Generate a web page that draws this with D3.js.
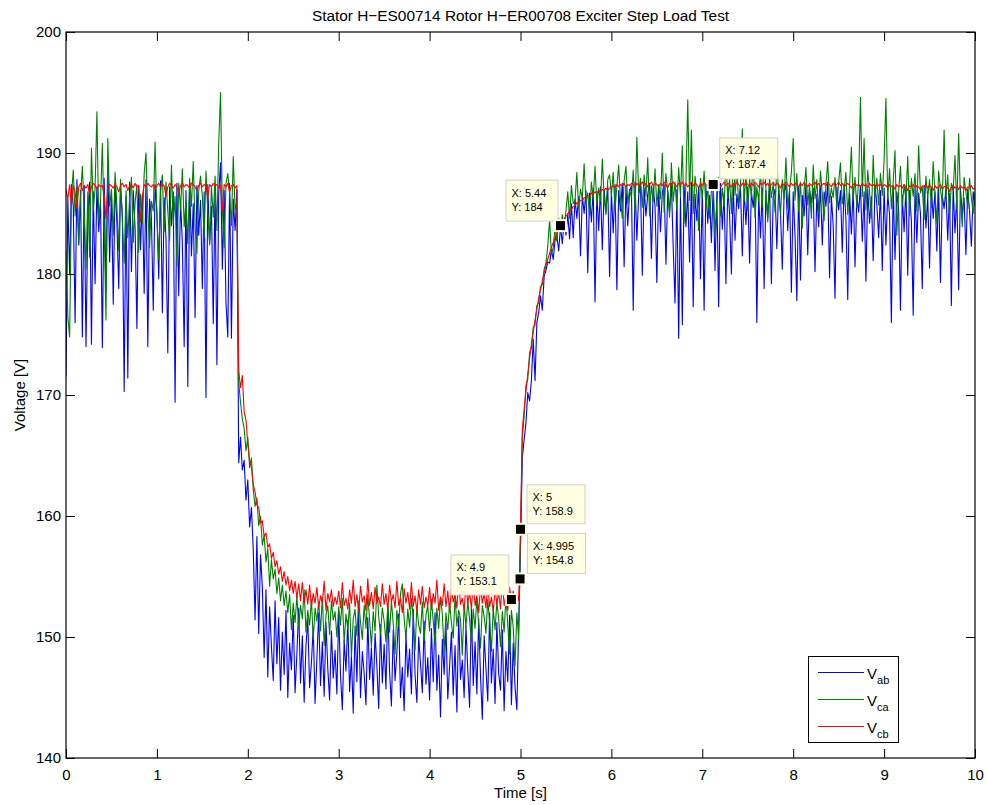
<!DOCTYPE html>
<html>
<head>
<meta charset="utf-8">
<script src="https://cdn.jsdelivr.net/npm/d3@7"></script>
<style>
    body { margin: 0; background: #fff; }
    svg { display: block; font-family: "Liberation Sans", Arial, Helvetica, sans-serif; }
</style>
</head>
<body>
<svg id="chart" width="987" height="805"></svg>
<script>
// Sampled at 0.02 s, 0..10 s (501 samples per phase)
const sampleStep = 0.02;

const vab = [
    171.5,186.2,180.0,187.4,185.6,176.0,187.8,182.4,186.9,174.8,187.3,174.0,184.5,187.6,174.2,186.8,179.2,187.2,183.5,186.0,173.9,187.9,178.6,189.2,181.0,
    186.7,177.5,187.5,184.2,178.8,187.1,185.0,170.3,186.4,171.4,187.6,180.2,186.9,183.8,175.5,187.3,182.0,186.5,178.4,187.8,174.0,186.2,184.6,177.0,187.4,
    185.2,179.6,187.7,176.8,186.3,182.9,173.5,187.2,184.0,186.8,169.4,187.5,178.2,186.0,182.6,174.0,186.9,170.7,187.6,181.5,185.8,176.4,187.3,183.2,186.1,
    178.8,186.8,169.8,187.4,182.5,185.6,175.9,187.2,172.5,186.6,189.2,180.4,186.9,177.6,174.8,187.5,174.7,186.2,183.6,187.0,164.4,166.5,163.8,164.6,161.3,
    163.0,159.1,160.7,157.2,151.4,158.3,150.3,156.8,154.1,148.3,153.9,146.7,152.5,149.2,146.4,153.0,147.8,151.6,145.6,150.4,146.9,152.2,145.0,149.5,147.3,
    151.8,145.4,148.6,152.4,146.2,150.1,144.6,149.3,151.5,145.8,147.9,150.8,144.5,148.2,152.0,146.0,149.6,145.1,151.2,147.4,144.8,150.5,146.6,148.9,145.3,
    152.1,146.8,144.0,149.7,147.2,151.4,145.5,148.4,143.7,150.9,146.3,152.2,145.0,148.8,147.0,144.4,151.6,146.5,149.1,145.2,150.3,147.6,144.1,151.0,146.2,
    149.4,145.7,152.5,147.1,144.3,150.6,146.4,148.7,151.9,145.0,147.5,143.9,150.2,146.7,149.0,145.3,152.3,146.9,144.6,150.0,147.8,145.4,151.3,146.1,148.3,
    144.8,150.7,146.3,152.0,145.6,148.5,143.4,149.8,146.9,151.1,144.9,147.6,150.4,145.2,149.3,143.8,151.7,146.5,148.1,145.0,150.9,147.3,144.2,152.4,146.0,
    149.6,145.3,151.5,146.8,143.2,150.1,147.4,144.7,152.0,146.2,149.0,144.5,151.2,147.0,145.6,150.6,143.9,148.8,146.3,151.8,144.4,149.5,145.8,144.0,150.9,
    157.5,164.8,166.3,167.7,170.2,169.5,171.2,174.6,171.2,176.0,176.8,178.2,177.0,179.8,180.3,181.0,180.9,182.0,181.2,182.8,183.2,181.9,183.9,182.5,184.4,
    183.2,185.0,182.9,185.8,183.0,186.2,184.6,186.4,181.5,186.5,185.0,186.9,180.1,186.7,184.3,187.1,177.7,186.8,183.6,187.2,182.0,187.0,185.1,187.3,179.8,
    186.8,183.4,187.4,178.7,186.9,185.2,187.5,180.6,187.2,184.0,186.8,187.3,177.0,187.6,182.8,186.5,187.4,179.9,187.1,184.8,186.6,187.5,181.3,187.2,185.6,
    179.3,187.1,183.5,186.7,187.4,180.8,186.9,185.1,187.5,182.2,177.6,187.0,174.7,186.4,175.8,187.3,183.9,186.8,181.0,187.5,177.3,186.6,184.4,187.2,179.6,
    186.9,177.0,187.4,184.2,186.5,182.6,187.3,180.3,186.8,177.3,187.5,183.7,186.7,179.2,187.2,185.0,180.0,187.4,182.8,186.6,185.4,187.3,181.5,186.9,184.1,
    187.2,180.9,186.8,185.5,187.4,176.0,186.6,183.0,187.1,178.8,186.9,184.6,187.5,179.2,186.4,187.0,182.1,187.3,185.2,180.4,186.7,187.4,183.6,186.9,178.5,
    186.8,183.2,177.8,187.2,179.5,186.5,184.8,187.4,181.6,186.9,185.9,187.1,180.2,186.6,183.9,187.3,182.4,186.8,185.6,187.5,179.7,186.4,184.0,178.0,187.2,
    185.3,186.9,181.8,187.4,184.5,177.9,186.7,183.3,187.2,180.6,186.5,185.1,187.3,182.7,186.8,179.4,187.0,184.2,186.4,181.1,187.3,185.8,183.0,186.9,180.3,
    187.1,182.4,186.6,184.9,176.0,187.3,181.2,186.8,185.3,177.0,186.5,183.5,187.2,179.9,186.9,184.4,176.6,187.0,182.6,186.7,185.0,178.8,187.3,183.8,186.4,
    180.5,187.1,184.6,186.8,181.9,187.2,179.3,186.5,185.4,187.0,182.8,186.7,177.4,187.3,183.4,186.6,178.7,187.1,184.9,186.3,181.6,187.0,185.2,182.3,186.8,
    185.6
];

const vca = [
    182.0,176.5,174.8,186.5,188.6,184.8,187.2,182.5,186.3,188.9,185.1,180.4,186.8,181.4,190.4,185.2,187.1,193.4,184.3,186.1,190.8,183.8,176.2,191.2,185.6,
    187.0,183.2,188.4,185.6,181.9,187.8,184.5,180.9,186.9,183.0,186.2,188.0,182.6,185.9,187.4,181.8,186.6,184.2,188.3,190.0,185.0,182.2,186.0,185.2,190.9,
    184.6,181.2,186.8,188.2,183.5,187.6,185.2,182.8,189.0,184.1,186.4,180.6,187.5,185.3,188.7,183.9,186.1,182.5,187.9,185.6,189.3,184.0,181.7,186.9,188.1,
    186.4,183.0,188.5,185.1,182.4,187.2,184.7,188.1,183.6,190.8,195.0,185.4,182.2,187.5,188.3,186.6,184.0,189.7,185.3,186.0,171.0,169.4,168.0,167.2,165.4,
    166.5,164.0,164.8,162.2,160.8,161.5,159.2,160.0,157.6,158.4,156.2,157.3,154.2,156.4,154.8,155.6,153.6,154.9,153.0,154.3,152.6,153.8,152.0,153.5,150.6,
    152.8,151.2,153.4,150.8,152.6,151.5,153.9,150.4,152.2,151.0,153.1,149.8,152.4,151.3,152.9,150.5,153.3,149.3,151.8,152.6,150.2,153.0,151.4,152.1,150.0,
    152.5,151.0,153.2,149.5,151.9,150.6,152.8,148.4,151.5,152.3,150.1,153.0,151.2,149.8,152.6,150.7,153.5,151.4,149.2,152.1,150.5,154.3,151.7,150.2,152.4,
    151.3,149.6,152.7,150.4,153.0,151.1,148.6,152.2,150.9,153.6,154.4,151.5,149.9,152.3,150.8,153.2,151.6,148.9,152.5,151.0,150.3,152.9,149.7,151.8,152.6,
    150.5,153.1,151.3,149.4,152.4,150.7,153.3,151.9,148.7,152.0,150.6,152.8,151.2,149.9,153.4,150.9,152.2,151.5,148.5,152.7,150.8,153.0,151.4,149.6,152.3,
    150.7,153.2,151.0,149.1,152.6,151.7,150.3,153.1,151.2,148.8,152.4,150.6,152.9,151.5,149.2,152.1,150.4,153.4,151.0,148.6,152.2,150.8,147.6,152.0,149.8,
    158.0,166.5,168.2,170.8,171.3,173.5,173.9,175.6,175.8,177.4,177.6,179.0,179.1,180.4,180.9,182.3,184.5,181.6,182.2,183.9,182.7,184.6,183.4,184.9,183.8,
    185.2,186.8,184.6,187.3,185.8,186.1,188.4,185.4,187.0,186.3,189.1,185.9,186.7,184.8,187.6,186.2,188.9,185.7,187.1,186.0,189.5,186.4,184.9,187.8,188.2,
    186.5,188.4,185.3,187.2,189.0,186.1,184.6,187.7,188.9,185.8,187.0,186.3,188.6,184.9,191.3,186.7,187.9,185.5,188.2,186.4,189.6,184.8,187.3,186.0,188.7,
    185.6,187.4,186.2,190.0,185.1,188.3,186.8,184.7,189.2,186.0,187.6,185.3,188.8,186.4,190.6,184.2,187.5,194.4,186.1,191.9,185.0,188.1,186.6,183.6,187.9,
    186.3,188.5,185.4,187.2,184.6,186.8,187.4,183.3,185.9,188.0,184.8,187.1,185.6,189.4,186.2,187.8,185.0,190.3,186.5,188.7,185.8,187.3,192.0,186.0,188.2,
    185.3,187.9,186.4,189.5,184.7,187.2,186.0,188.6,185.5,190.2,186.9,184.3,188.0,186.3,187.5,185.1,189.1,186.7,184.9,187.8,186.2,189.6,185.4,187.0,188.4,
    191.2,186.1,188.3,185.2,187.6,183.8,186.9,188.8,185.7,187.3,184.6,189.0,186.2,187.8,185.0,188.5,186.6,184.4,187.4,189.3,185.9,187.1,186.3,188.0,185.4,
    187.6,189.2,185.8,186.9,188.4,184.9,187.3,190.5,186.1,188.0,185.5,187.7,194.6,186.4,191.2,185.3,188.6,186.8,184.6,189.8,186.3,187.9,185.7,188.3,186.5,
    189.4,194.5,186.2,188.7,185.4,187.6,190.2,183.2,186.8,188.9,185.6,187.4,186.1,189.7,184.8,187.9,186.4,188.3,185.2,190.6,186.7,187.2,184.5,188.1,186.3,
    187.8,185.5,189.3,186.6,184.2,188.5,187.0,185.9,191.9,186.4,188.2,184.7,187.5,186.9,189.8,185.3,191.6,186.2,183.9,188.0,186.8,185.4,187.9,186.3,185.0,
    186.8
];

const vcb = [
    187.0,186.2,187.4,185.6,187.3,186.8,185.4,187.2,187.5,186.9,187.3,187.1,187.4,186.6,187.2,187.5,187.3,187.0,187.4,187.2,187.3,186.5,184.6,187.1,187.4,
    187.3,187.1,187.4,187.2,186.8,187.3,187.5,187.2,187.4,186.9,187.3,187.4,187.1,187.5,187.2,187.3,184.3,186.4,187.4,187.2,187.5,187.3,187.2,187.4,187.0,
    187.3,187.5,187.2,187.4,187.3,186.4,187.2,187.5,187.3,187.1,187.4,187.2,186.7,187.3,187.5,187.2,187.4,187.3,187.1,187.5,187.4,187.2,186.9,187.3,187.5,
    187.2,187.4,187.3,186.3,187.4,187.2,187.5,187.3,187.4,187.1,187.3,185.2,187.4,187.2,187.5,186.8,187.3,187.4,187.1,187.3,172.0,170.6,171.6,168.6,167.9,
    166.0,164.6,164.0,162.6,162.0,160.9,160.7,159.4,159.6,158.3,158.6,157.4,157.7,156.5,157.0,155.8,156.3,155.2,155.8,154.6,155.4,154.3,155.0,153.8,154.7,
    153.6,154.6,153.2,154.4,153.0,154.5,152.8,153.9,152.7,154.3,152.5,153.6,152.8,154.1,152.4,153.4,152.8,154.6,152.2,153.6,152.9,153.9,152.5,153.3,152.7,
    153.8,152.4,154.5,152.6,153.2,152.3,153.9,152.8,154.7,152.5,153.5,152.1,154.2,152.9,153.4,152.2,154.8,152.6,153.7,152.3,154.1,152.8,153.3,152.5,154.4,
    152.7,153.6,152.2,154.3,152.9,153.5,152.4,154.6,152.6,153.2,152.0,154.0,152.8,153.7,152.3,154.5,152.5,153.4,152.1,153.9,152.7,154.2,152.4,153.3,152.6,
    154.1,152.3,153.6,152.8,154.7,152.2,153.3,152.6,154.4,152.5,153.8,152.1,154.0,152.9,153.5,152.4,154.6,152.7,153.2,152.2,154.3,152.8,153.7,152.3,154.5,
    152.6,153.4,152.0,154.2,152.8,153.6,152.4,154.4,152.5,153.3,152.1,154.0,152.7,153.8,152.3,154.6,152.6,153.5,152.2,154.1,153.1,153.8,152.6,153.6,153.0,
    158.9,167.2,168.8,170.3,171.7,173.0,174.2,175.2,176.2,177.1,178.0,178.7,179.4,180.1,180.7,181.2,181.7,182.2,182.6,183.0,183.4,183.7,184.0,184.3,184.5,
    184.8,184.9,185.3,185.3,185.6,185.6,185.9,185.8,186.1,186.1,186.3,186.3,186.5,186.4,186.7,186.6,186.8,186.7,186.9,186.8,187.0,186.9,187.1,186.9,187.1,
    187.2,187.3,187.1,187.4,187.2,187.4,187.3,187.5,187.2,187.4,187.3,187.5,187.4,187.2,187.5,187.3,187.4,187.6,187.3,187.5,187.2,187.4,187.6,187.3,187.5,
    187.4,187.2,187.5,187.3,187.6,187.4,187.1,187.5,187.3,187.6,187.4,187.2,187.5,187.4,187.6,187.3,187.5,187.2,187.4,187.6,187.3,187.5,187.4,187.1,187.5,
    187.3,187.6,187.4,187.2,187.5,187.3,187.4,187.6,187.3,187.5,187.2,187.4,187.6,187.3,187.5,187.4,187.2,187.5,187.3,187.6,187.4,187.2,187.5,187.3,187.6,
    187.4,187.2,187.5,187.3,187.6,187.4,187.2,187.5,187.4,187.6,187.3,187.5,187.2,187.4,187.6,187.3,187.5,187.4,187.1,187.5,187.3,187.6,187.4,187.2,187.5,
    187.3,187.5,187.4,187.2,187.5,187.3,187.6,187.4,187.2,187.5,187.3,187.4,187.6,187.3,187.5,187.2,187.4,187.5,187.3,187.6,187.4,187.2,187.5,187.3,187.4,
    187.6,187.3,187.5,187.2,187.4,187.5,187.3,187.1,187.4,187.5,187.3,187.4,187.2,187.5,187.3,187.4,187.1,187.5,187.3,187.4,187.2,187.5,187.3,187.4,187.2,
    187.4,187.3,187.1,187.4,187.2,187.3,187.0,187.4,187.2,187.3,187.1,187.4,187.2,186.9,187.3,187.2,187.4,187.1,187.3,187.2,187.0,187.3,187.2,187.4,187.1,
    187.3,187.2,186.9,187.3,187.1,187.2,187.4,187.0,187.2,187.3,187.1,186.8,187.2,187.3,187.1,187.2,187.0,187.3,187.1,187.2,186.9,187.2,187.1,187.3,187.0,
    187.1
];

const seriesNames = ['ab', 'ca', 'cb'];
const seriesColors = ['#0000ff', '#008000', '#ff0000'];

const xTicks = [0, 1, 2, 3, 4, 5, 6, 7, 8, 9, 10];
const yTicks = [140, 150, 160, 170, 180, 190, 200];

// data cursors placed on the red trace
const tipTimes = [4.9, 4.995, 5, 5.44, 7.12];
const tipValues = [153.1, 154.8, 158.9, 184, 187.4];
// box offset from the marker: dx, dy, width, height
const tipBoxes = [[-61, -45, 58, 40], [7, -46, 58, 40], [6, -45, 58, 39], [-55, -46, 52, 41], [6, -47, 58, 41]];

function VoltageChart(element) {
    this.element = element;

    this.config = {
        left: 66, right: 975, top: 32, bottom: 758,
        tickLength: 9,
        fontSize: 15,
        titleSize: 15.4,
        title: 'Stator H\u2212ES00714 Rotor H\u2212ER00708 Exciter Step Load Test',
        xLabel: 'Time [s]',
        yLabel: 'Voltage [V]'
    };

    this.init = function () {
        let me = this;
        let c = me.config;
        let svg = d3.select(me.element);
        svg.selectAll('*').remove();

        let x = d3.scaleLinear().domain([0, 10]).range([c.left, c.right]);
        let y = d3.scaleLinear().domain([140, 200]).range([c.bottom, c.top]);

        svg.append('rect').attr('width', 987).attr('height', 805).attr('fill', '#fff');

        // traces
        let series = [vab, vca, vcb];
        let line = d3.line()
            .x((d, i) => x(i * sampleStep))
            .y(d => y(d));

        svg.append('clipPath').attr('id', 'plotClip')
            .append('rect')
            .attr('x', c.left).attr('y', c.top)
            .attr('width', c.right - c.left).attr('height', c.bottom - c.top);

        svg.append('g').attr('clip-path', 'url(#plotClip)')
            .selectAll('path')
            .data(series)
            .enter().append('path')
            .attr('d', line)
            .attr('fill', 'none')
            .attr('stroke', (d, i) => seriesColors[i])
            .attr('stroke-width', 1.1)
            .attr('stroke-linejoin', 'round');

        // axes, ticks pointing inwards on all four sides
        let bottomAxis = d3.axisBottom(x).tickValues(xTicks).tickSize(-c.tickLength).tickPadding(11).tickFormat(d3.format('d'));
        let topAxis = d3.axisTop(x).tickValues(xTicks).tickSize(-c.tickLength).tickFormat('');
        let leftAxis = d3.axisLeft(y).tickValues(yTicks).tickSize(-c.tickLength).tickPadding(5).tickFormat(d3.format('d'));
        let rightAxis = d3.axisRight(y).tickValues(yTicks).tickSize(-c.tickLength).tickFormat('');

        function styleAxis(g) {
            g.select('.domain').remove();
            g.selectAll('.tick line').attr('stroke', '#000');
            g.selectAll('.tick text')
                .attr('fill', '#000')
                .style('font-size', c.fontSize + 'px')
                .style('font-family', '"Liberation Sans", Arial, Helvetica, sans-serif');
        }

        svg.append('g').attr('transform', 'translate(0,' + c.bottom + ')').call(bottomAxis).call(styleAxis);
        svg.append('g').attr('transform', 'translate(0,' + c.top + ')').call(topAxis).call(styleAxis);
        svg.append('g').attr('transform', 'translate(' + c.left + ',0)').call(leftAxis).call(styleAxis);
        svg.append('g').attr('transform', 'translate(' + c.right + ',0)').call(rightAxis).call(styleAxis);

        svg.append('rect')
            .attr('x', c.left).attr('y', c.top)
            .attr('width', c.right - c.left).attr('height', c.bottom - c.top)
            .attr('fill', 'none').attr('stroke', '#000').attr('stroke-width', 1.2);

        // labels
        let midX = (c.left + c.right) / 2;
        svg.append('text')
            .attr('x', midX).attr('y', 21)
            .attr('text-anchor', 'middle')
            .style('font-size', c.titleSize + 'px')
            .text(c.title);

        svg.append('text')
            .attr('x', midX).attr('y', 798)
            .attr('text-anchor', 'middle')
            .style('font-size', c.fontSize + 'px')
            .text(c.xLabel);

        svg.append('text')
            .attr('transform', 'translate(25,' + ((c.top + c.bottom) / 2) + ') rotate(-90)')
            .attr('text-anchor', 'middle')
            .style('font-size', c.fontSize + 'px')
            .text(c.yLabel);

        me.drawTips(svg, x, y);
        me.drawLegend(svg);
    };

    this.drawTips = function (svg, x, y) {
        let fmt = d3.format('');
        let tips = svg.append('g').attr('class', 'datatips');
        tipTimes.forEach((t, i) => {
            let mx = x(t);
            let my = y(tipValues[i]);
            let b = tipBoxes[i];
            let g = tips.append('g');
            g.append('rect')
                .attr('x', mx + b[0] + 0.5).attr('y', my + b[1] + 0.5)
                .attr('width', b[2]).attr('height', b[3])
                .attr('fill', '#ffffe1').attr('stroke', '#cfcfcf');
            g.append('text')
                .attr('x', mx + b[0] + 6).attr('y', my + b[1] + 17)
                .style('font-size', '11px')
                .text('X: ' + fmt(t));
            g.append('text')
                .attr('x', mx + b[0] + 6).attr('y', my + b[1] + 31)
                .style('font-size', '11px')
                .text('Y: ' + fmt(tipValues[i]));
            g.append('rect')
                .attr('x', mx - 6.5).attr('y', my - 6.5)
                .attr('width', 13).attr('height', 13)
                .attr('fill', '#ffffe1');
            g.append('rect')
                .attr('x', mx - 4.5).attr('y', my - 4.5)
                .attr('width', 9).attr('height', 9)
                .attr('fill', '#000');
        });
    };

    this.drawLegend = function (svg) {
        let lg = svg.append('g').attr('class', 'legend');
        lg.append('rect')
            .attr('x', 808.5).attr('y', 656.5)
            .attr('width', 90).attr('height', 86)
            .attr('fill', '#fff').attr('stroke', '#000').attr('stroke-width', 1);
        seriesNames.forEach((name, i) => {
            let ly = 672.5 + i * 27;
            lg.append('line')
                .attr('x1', 818).attr('x2', 864)
                .attr('y1', ly).attr('y2', ly)
                .attr('stroke', seriesColors[i]).attr('stroke-width', 1);
            let t = lg.append('text')
                .attr('x', 867).attr('y', ly + 6)
                .style('font-size', '15px');
            t.append('tspan').text('V');
            t.append('tspan')
                .attr('dy', 5)
                .style('font-size', '11px')
                .text(name);
        });
    };

    this.init();
}

new VoltageChart(document.getElementById('chart'));
</script>
</body>
</html>
